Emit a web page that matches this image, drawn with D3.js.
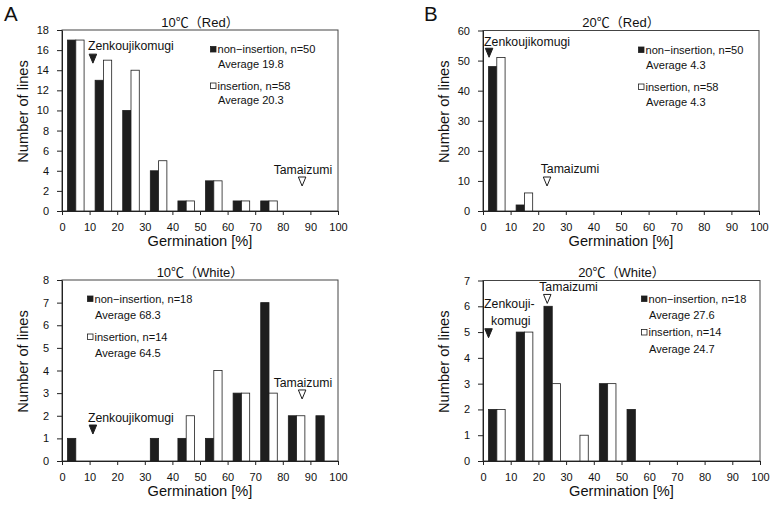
<!DOCTYPE html>
<html><head><meta charset="utf-8">
<script src="https://cdn.jsdelivr.net/npm/d3@7"></script>
<style>
body{margin:0;background:#fff;}
svg{display:block;font-family:"Liberation Sans",Arial,"Noto Sans CJK JP",sans-serif;}
</style></head>
<body><svg id="c" width="771" height="506"></svg>
<script>
// ---- data ----
const binStarts = [0,10,20,30,40,50,60,70,80,90];
const xTicks = [0,10,20,30,40,50,60,70,80,90,100];

const red10Non = [17,13,10,4,1,3,1,1,0,0];
const red10Ins = [17,15,14,5,1,3,1,1,0,0];
const red20Non = [48,2,0,0,0,0,0,0,0,0];
const red20Ins = [51,6,0,0,0,0,0,0,0,0];
const white10Non = [1,0,0,1,1,1,3,7,2,2];
const white10Ins = [0,0,0,0,2,4,3,3,2,0];
const white20Non = [2,5,6,0,3,2,0,0,0,0];
const white20Ins = [2,5,3,1,3,0,0,0,0,0];

const yTicksRed10 = [0,2,4,6,8,10,12,14,16,18];
const yTicksRed20 = [0,10,20,30,40,50,60];
const yTicksWhite10 = [0,1,2,3,4,5,6,7,8];
const yTicksWhite20 = [0,1,2,3,4,5,6,7];

const titles = ["10℃（Red）","20℃（Red）","10℃（White）","20℃（White）"];
const legendRed = ["non−insertion, n=50","insertion, n=58"];
const legendWhite = ["non−insertion, n=18","insertion, n=14"];
const avgRed10 = ["Average 19.8","Average 20.3"];
const avgRed20 = ["Average 4.3","Average 4.3"];
const avgWhite10 = ["Average 68.3","Average 64.5"];
const avgWhite20 = ["Average 27.6","Average 24.7"];

// markers: triangle x value, top y value; label lines with positions in data units
const markRed10 = [
  {fill:"#1e1e1e", x:11.2, y:15.6, lines:[{t:"Zenkoujikomugi", x:9.4, y:16.05, a:"start"}]},
  {fill:"#fff", x:87.0, y:3.38, lines:[{t:"Tamaizumi", x:87.3, y:3.68, a:"middle"}]}
];
const markRed20 = [
  {fill:"#1e1e1e", x:2.2, y:54.1, lines:[{t:"Zenkoujikomugi", x:0.4, y:54.7, a:"start"}]},
  {fill:"#fff", x:23.2, y:11.3, lines:[{t:"Tamaizumi", x:20.9, y:12.5, a:"start"}]}
];
const markWhite10 = [
  {fill:"#1e1e1e", x:11.2, y:1.59, lines:[{t:"Zenkoujikomugi", x:9.4, y:1.74, a:"start"}]},
  {fill:"#fff", x:87.0, y:3.14, lines:[{t:"Tamaizumi", x:87.3, y:3.26, a:"middle"}]}
];
const markWhite20 = [
  {fill:"#1e1e1e", x:2.0, y:5.13, lines:[{t:"Zenkouji-", x:0.4, y:5.94, a:"start"},{t:"komugi", x:2.9, y:5.28, a:"start"}]},
  {fill:"#fff", x:23.2, y:6.46, lines:[{t:"Tamaizumi", x:20.3, y:6.61, a:"start"}]}
];

const panels = [
  {left:62, right:338, top:30, bottom:211, ymax:18, yt:yTicksRed10, non:red10Non, ins:red10Ins, title:titles[0], leg:legendRed, avg:avgRed10, mark:markRed10,
   legX:210, legY:[53,67.5,89.5,104], letter:"A", lx:4, ly:21},
  {left:483, right:759, top:30.5, bottom:211, ymax:60, yt:yTicksRed20, non:red20Non, ins:red20Ins, title:titles[1], leg:legendRed, avg:avgRed20, mark:markRed20,
   legX:638, legY:[53.5,68.5,90.5,106], letter:"B", lx:424, ly:21},
  {left:62, right:338, top:280, bottom:461, ymax:8, yt:yTicksWhite10, non:white10Non, ins:white10Ins, title:titles[2], leg:legendWhite, avg:avgWhite10, mark:markWhite10,
   legX:87, legY:[302.5,318.5,340.5,356.5]},
  {left:483, right:760, top:280.5, bottom:461, ymax:7, yt:yTicksWhite20, non:white20Non, ins:white20Ins, title:titles[3], leg:legendWhite, avg:avgWhite20, mark:markWhite20,
   legX:641, legY:[302.5,318.5,336,352.5]}
];

const svg = d3.select("#c");
const BLACK = "#1e1e1e";

// pick a font size so that a sample string has the wanted width
function fitSize(sample, target, base) {
  const t = svg.append("text").attr("font-size", base).text(sample);
  const len = t.node().getComputedTextLength();
  t.remove();
  return len > 0 ? base * target / len : base;
}
const fsLegend = fitSize("non−insertion, n=50", 98, 12);
const fsMark = fitSize("Zenkoujikomugi", 86, 12);
const fsAxis = fitSize("Germination [%]", 105, 15);
const fsTick = 11;
const fsTitle = 13;

panels.forEach(p => {
  const x = d3.scaleLinear().domain([0,100]).range([p.left,p.right]);
  const y = d3.scaleLinear().domain([0,p.ymax]).range([p.bottom,p.top]);
  const g = svg.append("g");

  // frame
  g.append("rect").attr("x",p.left).attr("y",p.top).attr("width",p.right-p.left).attr("height",p.bottom-p.top)
    .attr("fill","none").attr("stroke","#444").attr("stroke-width",1);

  // bars
  const nonData = binStarts.map((b,i)=>({b, v:p.non[i]})).filter(d=>d.v>0);
  const insData = binStarts.map((b,i)=>({b, v:p.ins[i]})).filter(d=>d.v>0);
  g.selectAll(".non").data(nonData).join("rect")
    .attr("x",d=>x(d.b+2)).attr("width",d=>x(d.b+5)-x(d.b+2))
    .attr("y",d=>y(d.v)).attr("height",d=>y(0)-y(d.v))
    .attr("fill",BLACK).attr("stroke",BLACK).attr("stroke-width",0.8);
  g.selectAll(".ins").data(insData).join("rect")
    .attr("x",d=>x(d.b+5)).attr("width",d=>x(d.b+8)-x(d.b+5))
    .attr("y",d=>y(d.v)).attr("height",d=>y(0)-y(d.v))
    .attr("fill","#fff").attr("stroke",BLACK).attr("stroke-width",0.8);

  // axes
  const xa = g.append("g").attr("transform",`translate(0,${p.bottom})`)
    .call(d3.axisBottom(x).tickValues(xTicks).tickFormat(d3.format("d")).tickSize(4).tickPadding(8).tickSizeOuter(0));
  const ya = g.append("g").attr("transform",`translate(${p.left},0)`)
    .call(d3.axisLeft(y).tickValues(p.yt).tickFormat(d3.format("d")).tickSize(5).tickPadding(8).tickSizeOuter(0));
  [xa,ya].forEach(a=>{
    a.select(".domain").attr("stroke","#222");
    a.selectAll(".tick line").attr("stroke","#222");
    a.selectAll(".tick text").attr("font-size",fsTick).attr("fill","#111")
      .attr("font-family",'"Liberation Sans",Arial,sans-serif');
  });

  // titles / labels
  const cx = (p.left+p.right)/2;
  g.append("text").attr("x",cx).attr("y",p.top-3.5).attr("text-anchor","middle")
    .attr("font-size",fsTitle).attr("fill","#111").text(p.title);
  g.append("text").attr("x",cx).attr("y",p.bottom+35).attr("text-anchor","middle")
    .attr("font-size",fsAxis).attr("fill","#111").text("Germination [%]");
  const ycx = p.left-34, ycy = (p.top+p.bottom)/2-9;
  g.append("text").attr("transform",`translate(${ycx},${ycy}) rotate(-90)`).attr("text-anchor","middle")
    .attr("font-size",fsAxis).attr("fill","#111").text("Number of lines");
  if (p.letter) {
    svg.append("text").attr("x",p.lx).attr("y",p.ly).attr("font-size",20.5).attr("fill","#111").text(p.letter);
  }

  // legend
  const sq = 6.5;
  [0,1].forEach(i=>{
    const by = p.legY[i*2];
    g.append("rect").attr("x",p.legX+0.5).attr("y",by-sq).attr("width",sq-1).attr("height",sq-1)
      .attr("fill",i===0?BLACK:"#fff").attr("stroke",BLACK).attr("stroke-width",0.8);
    g.append("text").attr("x",p.legX+7.5).attr("y",by).attr("font-size",fsLegend).attr("fill","#111").text(p.leg[i]);
    g.append("text").attr("x",p.legX+8).attr("y",p.legY[i*2+1]).attr("font-size",fsLegend).attr("fill","#111").text(p.avg[i]);
  });

  // markers
  p.mark.forEach(m=>{
    const tx = x(m.x), ty = y(m.y), w = 7.5, h = 9;
    g.append("path").attr("d",`M${tx-w/2},${ty}L${tx+w/2},${ty}L${tx},${ty+h}Z`)
      .attr("fill",m.fill).attr("stroke",BLACK).attr("stroke-width",1);
    m.lines.forEach(l=>{
      g.append("text").attr("x",x(l.x)).attr("y",y(l.y)).attr("text-anchor",l.a)
        .attr("font-size",fsMark).attr("fill","#111").text(l.t);
    });
  });
});
</script></body></html>
